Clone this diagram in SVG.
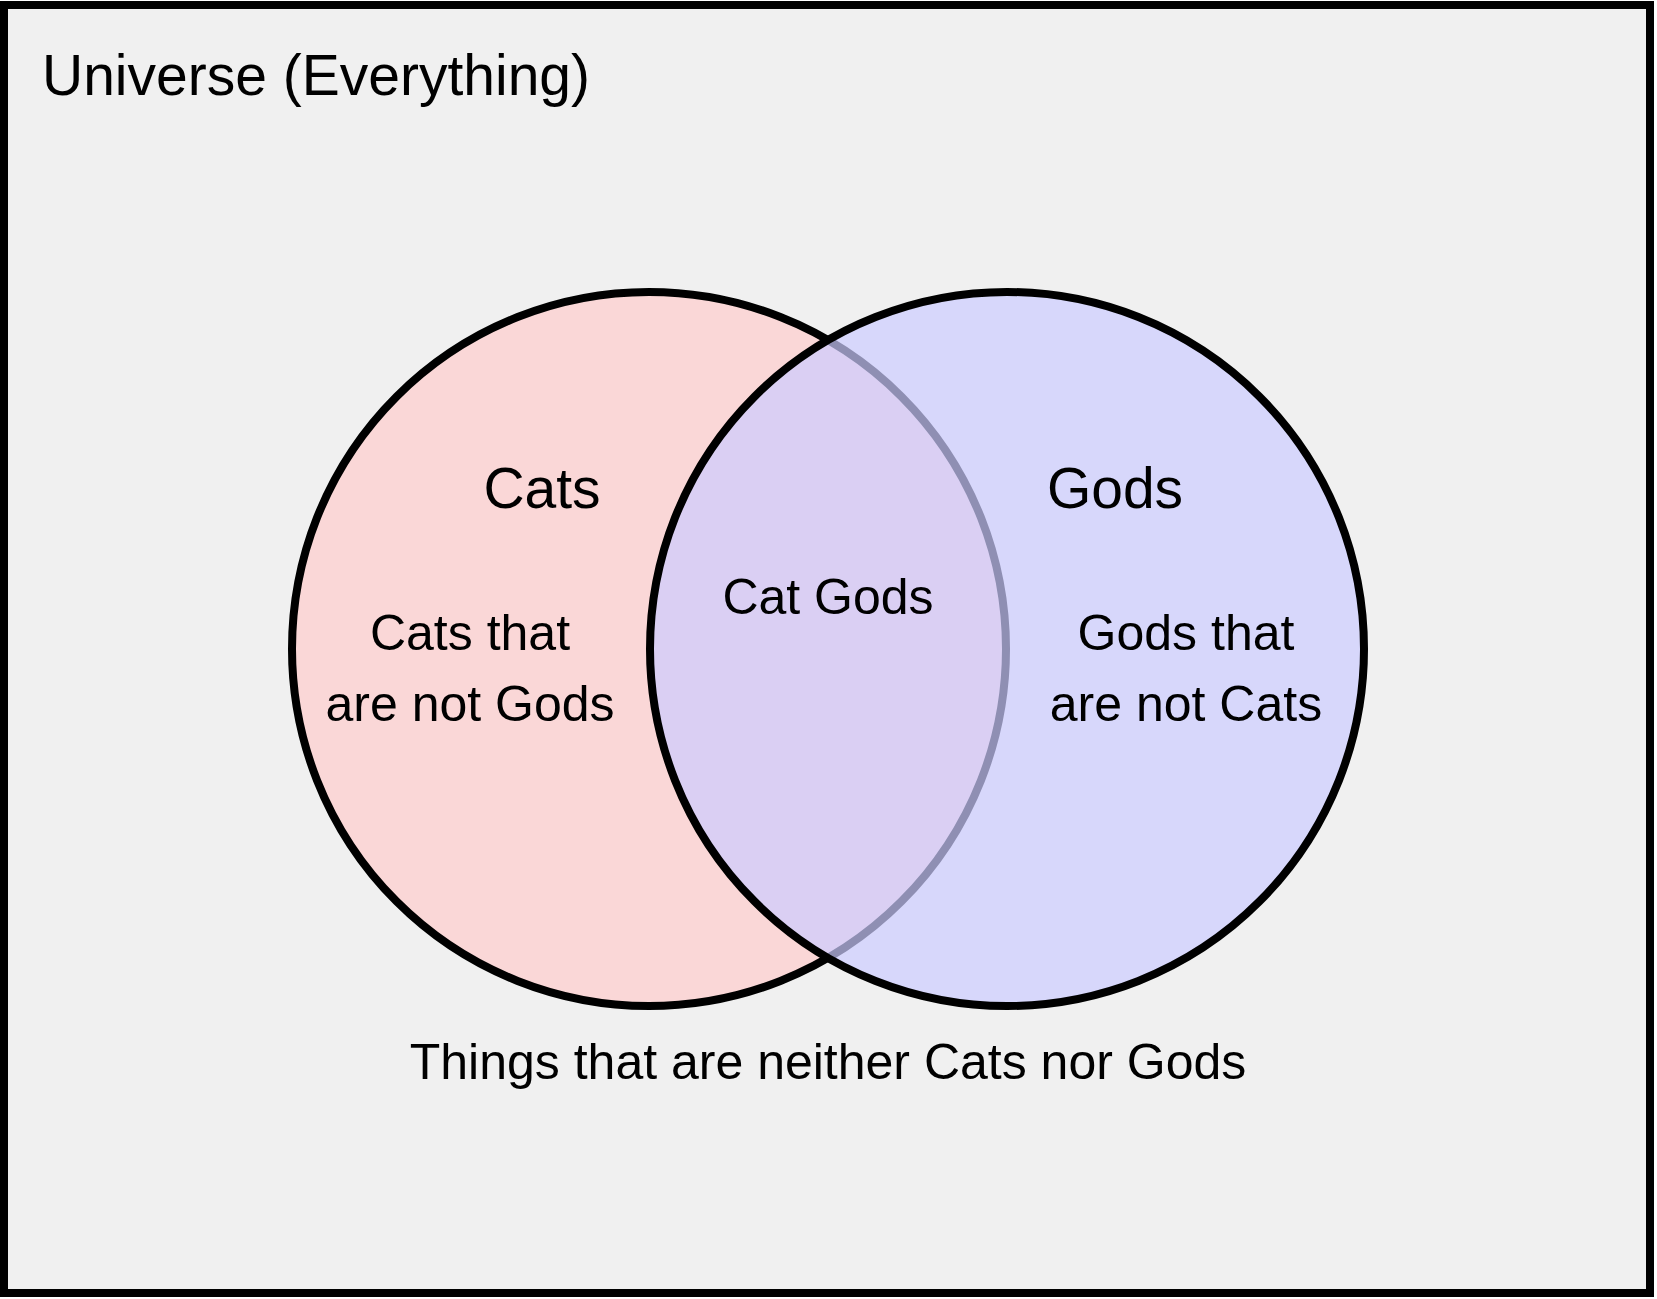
<svg xmlns="http://www.w3.org/2000/svg" width="1657" height="1299" viewBox="0 0 1657 1299">
  <style>
    .t { font-family: "Liberation Sans", Arial, sans-serif; fill: #000; }
    .big { font-size: 57px; text-anchor: middle; }
    .mid { font-size: 50px; text-anchor: middle; }
    .set { stroke: #000; stroke-width: 8; }
  </style>
  <rect x="0" y="0" width="1657" height="1299" fill="#ffffff"/>
  <g id="universe">
    <rect x="4" y="5" width="1646" height="1288" fill="#f0f0f0" stroke="#000" stroke-width="8"/>
    <text class="t" x="42" y="95" font-size="57">Universe (Everything)</text>
  </g>
  <g id="cats">
    <circle class="set" cx="649" cy="649" r="357" fill="#fad7d7"/>
  </g>
  <g id="gods">
    <circle cx="1007" cy="649" r="357" fill="#ccccff" fill-opacity="0.7" stroke="none"/>
    <circle cx="1007" cy="649" r="357" fill="none" class="set"/>
  </g>
  <g id="connectors"></g>
  <g id="labels">
    <text class="t big" x="542" y="508">Cats</text>
    <text class="t big" x="1115" y="508">Gods</text>
    <text class="t mid" x="828" y="614">Cat Gods</text>
    <text class="t mid" x="470" y="650">Cats that</text>
    <text class="t mid" x="470" y="721">are not Gods</text>
    <text class="t mid" x="1186" y="650">Gods that</text>
    <text class="t mid" x="1186" y="721">are not Cats</text>
    <text class="t mid" x="828" y="1079">Things that are neither Cats nor Gods</text>
  </g>
</svg>
